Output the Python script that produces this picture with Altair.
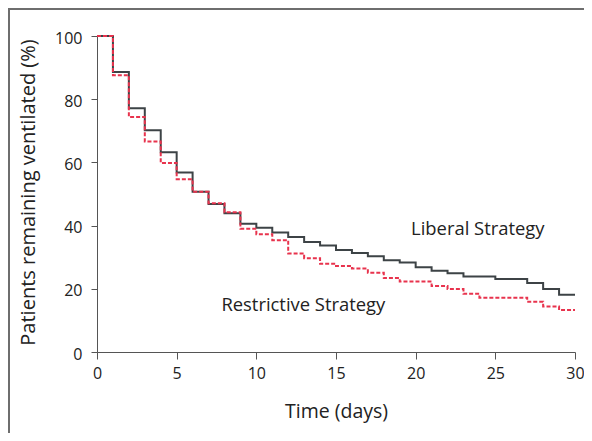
import altair as alt
import pandas as pd

days = list(range(0, 31))
liberal = [100, 88.6, 77.1, 70.2, 63.2, 56.8, 50.7, 46.8, 43.9, 40.6,
           39.3, 37.8, 36.4, 34.8, 33.7, 32.3, 31.3, 30.3, 29.0, 28.3,
           26.8, 25.7, 24.9, 23.9, 23.9, 23.1, 23.1, 21.8, 19.9, 18.1, 18.1]
restrictive = [100, 87.6, 74.4, 66.6, 59.8, 54.7, 50.7, 47.1, 44.2, 39.0,
               37.3, 35.4, 31.2, 29.7, 27.9, 27.2, 26.4, 25.1, 23.4, 22.3,
               22.3, 20.9, 19.9, 18.4, 17.2, 17.2, 17.2, 15.9, 14.4, 13.3, 13.3]

label_text = ["Liberal Strategy", "Restrictive Strategy"]
label_x = [23.9, 12.95]
label_y = [38.9, 14.9]

FONT = "Open Sans"
W, H = 478, 316

df = pd.DataFrame({
    "day": days * 2,
    "pct": liberal + restrictive,
    "group": ["Liberal"] * len(days) + ["Restrictive"] * len(days),
})
lab = pd.DataFrame({"text": label_text, "x": label_x, "y": label_y})

xscale = alt.Scale(domain=[0, 30], nice=False, zero=False)
yscale = alt.Scale(domain=[0, 100], nice=False)

base = alt.Chart(df)

lib_line = base.transform_filter(alt.datum.group == "Liberal").mark_line(
    interpolate="step-after", color="#3d4346", strokeWidth=2
).encode(
    x=alt.X("day:Q", scale=xscale, axis=alt.Axis(
        values=[0, 5, 10, 15, 20, 25, 30], title="Time (days)",
        grid=False, domainColor="#555555", tickColor="#555555", tickSize=7,
        labelFontSize=16, labelFont=FONT, labelColor="#222222", labelPadding=6,
        labelFlush=False,
        titleFont=FONT, titleFontSize=19.5, titleFontWeight="normal", titleColor="#222222",
        titleY=59, titleBaseline="middle")),
    y=alt.Y("pct:Q", scale=yscale, axis=alt.Axis(
        values=[0, 20, 40, 60, 80, 100], title="Patients remaining ventilated (%)",
        grid=False, domainColor="#555555", tickColor="#555555", tickSize=6,
        labelFontSize=16, labelFont=FONT, labelColor="#222222", labelPadding=9,
        labelFlush=False, labelOffset=2,
        titleFont=FONT, titleFontSize=20, titleFontWeight="normal", titleColor="#222222",
        titleX=-69, titleY=156, titleAngle=-90, titleAlign="center", titleBaseline="middle")),
)

res_line = base.transform_filter(alt.datum.group == "Restrictive").mark_line(
    interpolate="step-after", color="#e8334d", strokeWidth=2, strokeDash=[4, 2]
).encode(x=alt.X("day:Q", scale=xscale), y=alt.Y("pct:Q", scale=yscale))

labels = alt.Chart(lab).mark_text(
    font=FONT, fontSize=18.4, color="#222222", align="center", baseline="middle"
).encode(x=alt.X("x:Q", scale=xscale), y=alt.Y("y:Q", scale=yscale), text="text:N")

one = pd.DataFrame({"k": [0]})
frame_top = alt.Chart(one).mark_rule(color="#6e6e6e", strokeWidth=2).encode(
    x=alt.value(-89), x2=alt.value(W + 9), y=alt.value(-27))
frame_left = alt.Chart(one).mark_rule(color="#6e6e6e", strokeWidth=2).encode(
    x=alt.value(-88), y=alt.value(-28), y2=alt.value(H + 81))

chart = alt.layer(lib_line, res_line, labels, frame_top, frame_left).properties(
    width=W, height=H,
    autosize=alt.AutoSizeParams(type="none"),
    padding={"left": 89, "top": 28, "right": 9, "bottom": 81},
).configure_view(stroke=None)

chart.save("out.html", embed_options={"renderer": "svg", "actions": False})
